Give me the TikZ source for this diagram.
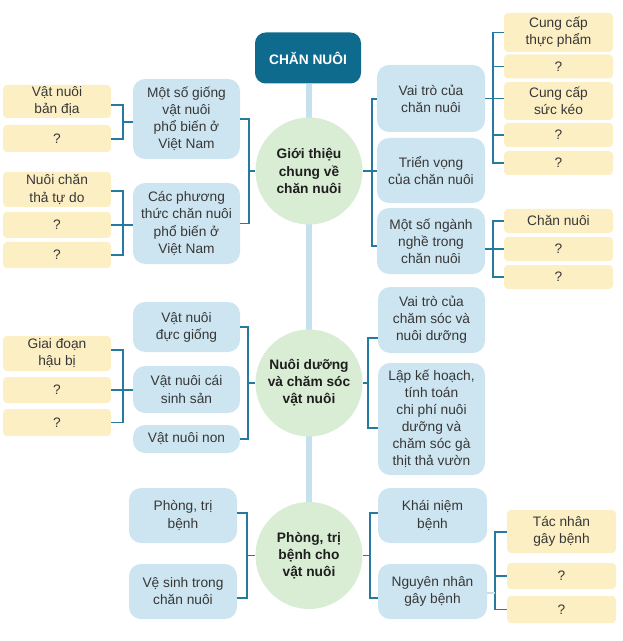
\documentclass[tikz,border=0pt]{standalone}
\usepackage{fontspec}
\setmainfont{Liberation Sans}
\usetikzlibrary{backgrounds}
\definecolor{titlec}{RGB}{15,107,142}
\definecolor{connc}{RGB}{38,122,160}
\definecolor{spinec}{RGB}{197,224,238}
\definecolor{bluef}{RGB}{205,229,241}
\definecolor{yelf}{RGB}{253,239,196}
\definecolor{greenf}{RGB}{217,236,212}
\definecolor{txt}{RGB}{55,55,55}
\definecolor{dark}{RGB}{30,30,30}
\tikzset{
  base/.style={font=\fontsize{10.3}{12.8}\selectfont, text=txt, align=center, inner sep=0pt},
  sz/.style 2 args={minimum width=#1*0.75pt, minimum height=#2*0.75pt},
  bluebox/.style={base, fill=bluef, rounded corners=9pt},
  yelbox/.style={base, fill=yelf, rounded corners=3pt},
  circ/.style={base, circle, fill=greenf, minimum size=107*0.75pt, font=\fontsize{10.3}{12.8}\selectfont\bfseries, text=dark},
  titlebox/.style={base, fill=titlec, rounded corners=8pt, text=white, font=\fontsize{10.3}{12.8}\selectfont\bfseries},
  conn/.style={draw=connc, line width=1.1pt},
  lightconn/.style={draw=spinec, line width=2.2pt},
  spine/.style={draw=spinec, line width=3.8pt},
}
\begin{document}
\begin{tikzpicture}[x=0.75pt,y=-0.75pt]
\useasboundingbox (0,0) rectangle (622,641);
% title and circles
\node[titlebox, sz={106}{51}] (title) at (308,58) {CHĂN NUÔI};
\node[circ] (c1) at (309,171) {Giới thiệu\\chung về\\chăn nuôi};
\node[circ] (c2) at (309,383) {Nuôi dưỡng\\và chăm sóc\\vật nuôi};
\node[circ] (c3) at (309,555.5) {Phòng, trị\\bệnh cho\\vật nuôi};
\begin{scope}[on background layer]
  \draw[spine] (c1.north |- title.south) -- (c3.north);
\end{scope}
% --- group 1 left
\node[bluebox, sz={107}{80}] (L1) at (186.5,119) {Một số giống\\vật nuôi\\phổ biến ở\\Việt Nam};
\node[bluebox, sz={107}{81}] (L2) at (186.5,223.5) {Các phương\\thức chăn nuôi\\phổ biến ở\\Việt Nam};
\node[yelbox, sz={108}{33}] (Y1) at (57,101.5) {Vật nuôi\\bản địa};
\node[yelbox, sz={108}{27}] (Y2) at (57,138.5) {?};
\node[yelbox, sz={108}{35}] (Y3) at (57,189.5) {Nuôi chăn\\thả tự do};
\node[yelbox, sz={108}{26}] (Y4) at (57,225) {?};
\node[yelbox, sz={108}{26}] (Y5) at (57,255) {?};
% --- group 1 right
\node[bluebox, sz={108}{67}] (R1) at (431,98.5) {Vai trò của\\chăn nuôi};
\node[bluebox, sz={108}{65}] (R2) at (431,170.5) {Triển vọng\\của chăn nuôi};
\node[bluebox, sz={108}{66}] (R3) at (431,241) {Một số ngành\\nghề trong\\chăn nuôi};
\node[yelbox, sz={109}{39}] (YR1) at (558.5,32.5) {Cung cấp\\thực phẩm};
\node[yelbox, sz={109}{24}] (YR2) at (558.5,66.5) {?};
\node[yelbox, sz={109}{38}] (YR3) at (558.5,101) {Cung cấp\\sức kéo};
\node[yelbox, sz={109}{24}] (YR4) at (558.5,135) {?};
\node[yelbox, sz={109}{24}] (YR5) at (558.5,163) {?};
\node[yelbox, sz={109}{24}] (YR6) at (558.5,221) {Chăn nuôi};
\node[yelbox, sz={109}{24}] (YR7) at (558.5,249) {?};
\node[yelbox, sz={109}{24}] (YR8) at (558.5,277) {?};
% --- group 2 left
\node[bluebox, sz={107}{50}] (L3) at (186.5,327) {Vật nuôi\\đực giống};
\node[bluebox, sz={107}{47}] (L4) at (186.5,389.5) {Vật nuôi cái\\sinh sản};
\node[bluebox, sz={107}{28}] (L5) at (186.5,439) {Vật nuôi non};
\node[yelbox, sz={108}{35}] (Y6) at (57,353.5) {Giai đoạn\\hậu bị};
\node[yelbox, sz={108}{26}] (Y7) at (57,390) {?};
\node[yelbox, sz={108}{27}] (Y8) at (57,422.5) {?};
% --- group 2 right
\node[bluebox, sz={107}{66}] (R4) at (431.5,320) {Vai trò của\\chăm sóc và\\nuôi dưỡng};
\node[bluebox, sz={107}{112}] (R5) at (431.5,419) {Lập kế hoạch,\\tính toán\\chi phí nuôi\\dưỡng và\\chăm sóc gà\\thịt thả vườn};
% --- group 3
\node[bluebox, sz={108}{55}] (L6) at (183,515.5) {Phòng, trị\\bệnh};
\node[bluebox, sz={108}{55}] (L7) at (183,591.5) {Vệ sinh trong\\chăn nuôi};
\node[bluebox, sz={109}{55}] (R6) at (432.5,515.5) {Khái niệm\\bệnh};
\node[bluebox, sz={109}{55}] (R7) at (432.5,591.5) {Nguyên nhân\\gây bệnh};
\node[yelbox, sz={109}{43}] (YB1) at (561.5,531.5) {Tác nhân\\gây bệnh};
\node[yelbox, sz={109}{26}] (YB2) at (561.5,576) {?};
\node[yelbox, sz={109}{27}] (YB3) at (561.5,609.5) {?};
% --- bracket points
\coordinate (k1) at (249,171);
\coordinate (k2) at (123,122);
\coordinate (k3) at (123,225);
\coordinate (k4) at (372,171);
\coordinate (k5) at (493,98.5);
\coordinate (k6) at (493,249);
\coordinate (k7) at (248,383);
\coordinate (k8) at (123,390);
\coordinate (k9) at (368,383);
\coordinate (k10) at (247,555.5);
\coordinate (k11) at (370,555.5);
\coordinate (k12) at (495,593);
% --- connectors group 1
\draw[conn] (L1.east) -| (k1) |- (L2.east);
\draw[conn] (k1) -- (c1.west);
\draw[conn] (Y1.east |- 0,105) -| (k2) |- (Y2.east |- 0,139);
\draw[conn] (k2) -- (L1.west |- k2);
\draw[conn] (Y3.east |- 0,191) -| (k3) |- (Y5.east);
\draw[conn] (Y4.east) -- (L2.west |- Y4.east);
\draw[conn] (R1.west |- 0,99) -| (k4) |- (R3.west |- 0,246);
\draw[conn] (c1.east) -- (R2.west |- c1.east);
\draw[conn] (YR1.west) -| (k5) |- (YR5.west);
\draw[conn] (R1.east) -- (YR3.west |- k5);
\draw[conn] (YR2.west) -- (k5 |- YR2.west);
\draw[conn] (YR4.west) -- (k5 |- YR4.west);
\draw[conn] (YR6.west) -| (k6) |- (YR8.west);
\draw[conn] (R3.east |- k6) -- (YR7.west);
% --- connectors group 2
\draw[conn] (L3.east) -| (k7) |- (L5.east);
\draw[conn] (k7) -- (c2.west);
\draw[conn] (Y6.east |- 0,350) -| (k8) |- (Y8.east);
\draw[conn] (Y7.east) -- (L4.west |- Y7.east);
\draw[conn] (R4.west |- 0,338) -| (k9) |- (R5.west |- 0,428);
\draw[conn] (c2.east) -- (k9);
% --- connectors group 3
\draw[conn] (L6.east |- 0,513) -| (k10) |- (L7.east |- 0,598);
\draw[conn] (c3.west) -- (k10);
\draw[conn] (R6.west |- 0,513) -| (k11) |- (R7.west |- 0,598);
\draw[conn] (c3.east) -- (k11);
\draw[conn] (YB1.west |- 0,532) -| (k12 |- YB2.west) |- (YB3.west);
\draw[conn] (YB2.west) -- (k12 |- YB2.west);
\draw[lightconn] (R7.east |- k12) -- (k12);
\end{tikzpicture}
\end{document}
